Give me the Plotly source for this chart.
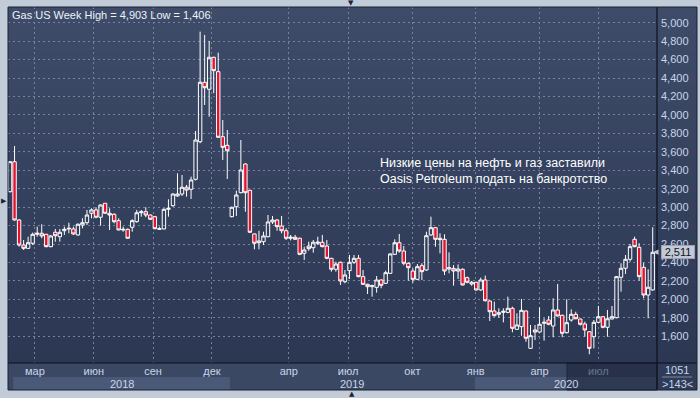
import plotly.graph_objects as go

# ---------------- data (weekly candles) ----------------
opens = [3168, 3493, 2861, 2590, 2554, 2609, 2706, 2717, 2706, 2572,
         2728, 2680, 2745, 2764, 2764, 2699, 2807, 2832, 2934, 2970,
         2891, 3042, 2934, 2923, 2854, 2753, 2760, 2782, 2843, 2940,
         2951, 2915, 2897, 2760, 2764, 2977, 3016, 3122, 3143, 3216,
         3194, 3302, 3710, 4354, 4278, 4625, 4469, 3764, 3671, 2897,
         3005, 3157, 3468, 3183, 2710, 2634, 2626, 2680, 2840, 2861,
         2796, 2745, 2663, 2674, 2663, 2500, 2579, 2561, 2609, 2620,
         2579, 2446, 2327, 2403, 2192, 2312, 2403, 2446, 2247, 2164,
         2138, 2131, 2211, 2175, 2283, 2489, 2615, 2525, 2392, 2308,
         2218, 2366, 2319, 2699, 2778, 2663, 2652, 2330, 2337, 2308,
         2327, 2236, 2167, 2186, 2103, 2211, 1983, 1875, 1839, 1860,
         1860, 1904, 1676, 1705, 1875, 1470, 1669, 1647, 1742, 1777,
         1712, 1886, 1828, 1640, 1777, 1839, 1788, 1734, 1650, 1596,
         1752, 1813, 1698, 1788, 1802, 2240, 2338, 2435, 2652, 2565,
         2348, 2048, 2103]
highs = [3500, 3663, 2870, 2644, 2680, 2724, 2789, 2815, 2710, 2699,
         2764, 2764, 2789, 2832, 2789, 2825, 2880, 2970, 2988, 2999,
         3030, 3045, 2988, 2934, 2880, 2789, 2770, 2869, 2970, 2970,
         2999, 2920, 2905, 2789, 2988, 3086, 3150, 3367, 3349, 3241,
         3331, 3826, 4903, 4867, 4802, 4630, 4675, 3945, 3837, 3005,
         3179, 3728, 3475, 3190, 2715, 2745, 2734, 2915, 2905, 2870,
         2905, 2771, 2699, 2699, 2670, 2572, 2626, 2644, 2680, 2699,
         2644, 2450, 2409, 2410, 2319, 2482, 2482, 2482, 2319, 2170,
         2160, 2254, 2218, 2312, 2500, 2652, 2710, 2579, 2400, 2337,
         2384, 2392, 2734, 2897, 2785, 2717, 2706, 2511, 2373, 2380,
         2335, 2247, 2200, 2190, 2236, 2258, 1990, 1976, 1904, 1904,
         2030, 1921, 1850, 2005, 1880, 1723, 1723, 1915, 1796, 1820,
         2012, 2168, 1835, 2002, 1893, 1867, 1792, 1759, 1655, 1777,
         1929, 1820, 1886, 1929, 2254, 2392, 2482, 2601, 2680, 2609,
         2398, 2327, 2782]
lows = [3160, 2855, 2572, 2536, 2547, 2590, 2680, 2663, 2565, 2565,
        2626, 2626, 2699, 2717, 2699, 2691, 2771, 2807, 2880, 2880,
        2800, 2930, 2753, 2825, 2750, 2734, 2660, 2734, 2832, 2897,
        2891, 2861, 2760, 2753, 2760, 2897, 3005, 3114, 3121, 3114,
        3089, 3290, 3693, 4108, 3981, 4235, 3750, 3512, 3306, 2890,
        2905, 3150, 2951, 2720, 2544, 2544, 2590, 2674, 2818, 2745,
        2717, 2644, 2640, 2645, 2480, 2428, 2528, 2507, 2590, 2565,
        2435, 2301, 2301, 2157, 2175, 2222, 2384, 2240, 2157, 2059,
        2030, 2073, 2121, 2167, 2276, 2482, 2507, 2370, 2203, 2182,
        2210, 2210, 2312, 2690, 2572, 2500, 2265, 2283, 2149, 2222,
        2150, 2175, 2149, 2095, 2092, 1978, 1766, 1813, 1802, 1752,
        1850, 1644, 1670, 1607, 1542, 1463, 1560, 1640, 1553, 1720,
        1590, 1815, 1590, 1630, 1759, 1785, 1716, 1596, 1406, 1470,
        1745, 1687, 1596, 1785, 1796, 2084, 2276, 2409, 2565, 2203,
        2012, 1796, 2095]
closes = [3493, 2861, 2590, 2554, 2615, 2706, 2717, 2688, 2572, 2688,
          2691, 2728, 2760, 2771, 2710, 2815, 2832, 2915, 2970, 2891,
          3024, 2934, 2915, 2843, 2753, 2760, 2663, 2854, 2940, 2951,
          2915, 2869, 2767, 2767, 2977, 2988, 3143, 3143, 3216, 3186,
          3295, 3728, 4354, 4295, 4625, 4480, 3758, 3649, 3612, 2999,
          3132, 3403, 3157, 2728, 2609, 2615, 2688, 2840, 2861, 2789,
          2745, 2663, 2674, 2652, 2489, 2536, 2550, 2620, 2620, 2572,
          2446, 2327, 2384, 2200, 2265, 2403, 2446, 2247, 2164, 2138,
          2149, 2211, 2153, 2290, 2493, 2615, 2525, 2392, 2344, 2218,
          2355, 2301, 2691, 2778, 2652, 2648, 2308, 2344, 2308, 2330,
          2157, 2186, 2186, 2103, 2211, 1986, 1867, 1824, 1856, 1871,
          1904, 1687, 1723, 1882, 1579, 1607, 1647, 1731, 1752, 1731,
          1886, 1821, 1633, 1748, 1839, 1791, 1731, 1669, 1470, 1752,
          1813, 1698, 1791, 1813, 2247, 2338, 2435, 2572, 2572, 2247,
          2048, 2132, 2511]

# month gridlines / labels (positions in candle-index units)
month_labels = ["мар", "июн", "сен", "дек", "апр", "июл", "окт", "янв", "апр", "июл"]
month_pos = [5.5, 18.5, 31.6, 44.6, 61.6, 74.7, 88.9, 102.9, 117.0, 130.0]
year_labels = ["2018", "2019", "2020"]
year_bounds = [0.7, 48.6, 102.7, 142.95]
price_ticks = [1600, 1800, 2000, 2200, 2400, 2600, 2800, 3000, 3200, 3400,
               3600, 3800, 4000, 4200, 4400, 4600, 4800, 5000]
title_text = "Gas US Week High = 4,903 Low = 1,406"
note_lines = ["Низкие цены на нефть и газ заставили",
              "Oasis Petroleum подать на банкротство"]
counter_top = "1051"
counter_bottom = ">143<"

x = list(range(len(closes)))

# ---------------- layout geometry helpers ----------------
W, H = 700, 398
L, R, T, B = 8, 657, 7, 363   # plot area in pixels
PW, PH = R - L, B - T


def px(xp):
    return (xp - L) / PW


def py(yp):
    return (B - yp) / PH


FONT = "Liberation Sans, Arial, sans-serif"
LABEL_COL = "#c9d5ea"
GRID_COL = "#75839e"

fig = go.Figure()
fig.add_trace(go.Candlestick(
    x=x, open=opens, high=highs, low=lows, close=closes,
    increasing=dict(line=dict(color="#ffffff", width=1), fillcolor="rgba(0,0,0,0)"),
    decreasing=dict(line=dict(color="#ffffff", width=1), fillcolor="#e3122d"),
    whiskerwidth=0, hoverinfo="skip", showlegend=False,
))

shapes = []
# chart body
shapes.append(dict(type="rect", xref="paper", yref="paper", x0=px(8), x1=px(697),
                   y0=py(390), y1=py(7), fillcolor="#33405c", line=dict(width=0), layer="below"))
# vertical gradient behind the plot and the price axis
N = 40
top_c = (63, 76, 105)
bot_c = (43, 55, 83)
for i in range(N):
    t = i / (N - 1)
    c = tuple(round(top_c[k] + (bot_c[k] - top_c[k]) * t) for k in range(3))
    shapes.append(dict(type="rect", xref="paper", yref="paper",
                       x0=px(8), x1=px(697),
                       y0=py(T + (i + 1) * PH / N) - 0.001, y1=py(T + i * PH / N),
                       fillcolor="rgb(%d,%d,%d)" % c, line=dict(width=0), layer="below"))
# x-axis strip
shapes.append(dict(type="rect", xref="paper", yref="paper", x0=px(8), x1=px(657),
                   y0=py(390), y1=py(363), fillcolor="#3b4864", line=dict(width=0), layer="below"))
# lighter year bands (2018, 2020)
for i in (0, 2):
    shapes.append(dict(type="rect", xref="x", yref="paper",
                       x0=year_bounds[i], x1=year_bounds[i + 1],
                       y0=py(390), y1=py(377), fillcolor="#4a5977",
                       line=dict(width=0), layer="below"))
# bottom-right counter box
shapes.append(dict(type="rect", xref="paper", yref="paper", x0=px(657), x1=px(697),
                   y0=py(390), y1=py(363), fillcolor="#2f3b57", line=dict(width=0), layer="below"))
shapes.append(dict(type="line", xref="paper", yref="paper", x0=px(662), x1=px(692),
                   y0=py(377), y1=py(377), line=dict(color="#7d8aa3", width=1), layer="above"))
# dark scroll overlay on the right part of the x strip
shapes.append(dict(type="rect", xref="paper", yref="paper", x0=px(567), x1=px(657),
                   y0=py(390), y1=py(363), fillcolor="rgba(24,32,52,0.55)",
                   line=dict(color="#1e2638", width=1), layer="above"))
# frame lines
shapes.append(dict(type="line", xref="paper", yref="paper", x0=px(657), x1=px(657),
                   y0=py(390), y1=py(7), line=dict(color="#0d111a", width=1.2), layer="above"))
shapes.append(dict(type="line", xref="paper", yref="paper", x0=px(8), x1=px(697),
                   y0=py(363), y1=py(363), line=dict(color="#0d111a", width=1.2), layer="above"))
shapes.append(dict(type="rect", xref="paper", yref="paper", x0=px(8), x1=px(697),
                   y0=py(390), y1=py(7), line=dict(color="#1b2333", width=1), layer="above"))

annotations = []
annotations.append(dict(xref="paper", yref="paper", x=px(10), y=py(15), xanchor="left",
                        yanchor="middle", text=title_text, showarrow=False,
                        font=dict(family=FONT, size=11, color="#eef2fa")))
annotations.append(dict(xref="paper", yref="paper", x=px(378), y=py(171), xanchor="left",
                        yanchor="middle", align="left", text="<br>".join(note_lines),
                        showarrow=False, font=dict(family=FONT, size=12.5, color="#ffffff")))
for i, lab in enumerate(year_labels):
    annotations.append(dict(xref="x", yref="paper",
                            x=(year_bounds[i] + year_bounds[i + 1]) / 2, y=py(384),
                            xanchor="center", yanchor="middle", text=lab, showarrow=False,
                            font=dict(family=FONT, size=11, color=LABEL_COL)))
annotations.append(dict(xref="paper", yref="paper", x=px(677), y=py(370), text=counter_top,
                        showarrow=False, xanchor="center", yanchor="middle",
                        font=dict(family=FONT, size=11, color=LABEL_COL)))
annotations.append(dict(xref="paper", yref="paper", x=px(677), y=py(384), text=counter_bottom,
                        showarrow=False, xanchor="center", yanchor="middle",
                        font=dict(family=FONT, size=11, color=LABEL_COL)))
# last price marker
annotations.append(dict(xref="paper", yref="y", x=px(661), y=closes[-1], xanchor="left",
                        yanchor="middle", text=f"{closes[-1]:,}", showarrow=False,
                        bgcolor="#c3cad5", bordercolor="#9aa3b2", borderwidth=1, borderpad=0,
                        width=32, align="center",
                        font=dict(family=FONT, size=11, color="#101520")))
annotations.append(dict(xref="paper", yref="y", x=px(661), y=closes[-1], xanchor="right",
                        yanchor="middle", text="◀", showarrow=False,
                        font=dict(family="DejaVu Sans", size=7, color="#c3cad5")))
# little navigation triangles on the frame
annotations.append(dict(xref="paper", yref="paper", x=px(351), y=py(3), text="▼", showarrow=False,
                        xanchor="center", yanchor="middle",
                        font=dict(family="DejaVu Sans", size=7, color="#1b2333")))
annotations.append(dict(xref="paper", yref="paper", x=px(352), y=py(394), text="▲", showarrow=False,
                        xanchor="center", yanchor="middle",
                        font=dict(family="DejaVu Sans", size=7, color="#1b2333")))
annotations.append(dict(xref="paper", yref="paper", x=px(4), y=py(201), text="▶", showarrow=False,
                        xanchor="center", yanchor="middle",
                        font=dict(family="DejaVu Sans", size=7, color="#1b2333")))

fig.update_layout(
    width=W, height=H,
    margin=dict(l=L, r=W - R, t=T, b=H - B, pad=0),
    paper_bgcolor="#c2cbd8", plot_bgcolor="rgba(0,0,0,0)",
    showlegend=False, boxgap=0.25, boxgroupgap=0,
    shapes=shapes, annotations=annotations,
    xaxis=dict(range=[-0.45, 142.95], rangeslider=dict(visible=False),
               tickmode="array", tickvals=month_pos, ticktext=month_labels,
               showgrid=True, gridcolor=GRID_COL, griddash="2px,3px", gridwidth=1,
               ticks="", showline=False, zeroline=False,
               tickfont=dict(family=FONT, size=11, color=LABEL_COL)),
    yaxis=dict(range=[1311, 5170], side="right", tickmode="array", tickvals=price_ticks,
               tickformat=",d", showgrid=True, gridcolor=GRID_COL, griddash="2px,3px",
               gridwidth=1, ticks="", showline=False, zeroline=False,
               ticklabelstandoff=3,
               tickfont=dict(family=FONT, size=11, color=LABEL_COL)),
)

fig.write_html("out.html", config={"displayModeBar": False},
               post_script="document.body.style.margin='0';document.body.style.overflow='hidden';")
